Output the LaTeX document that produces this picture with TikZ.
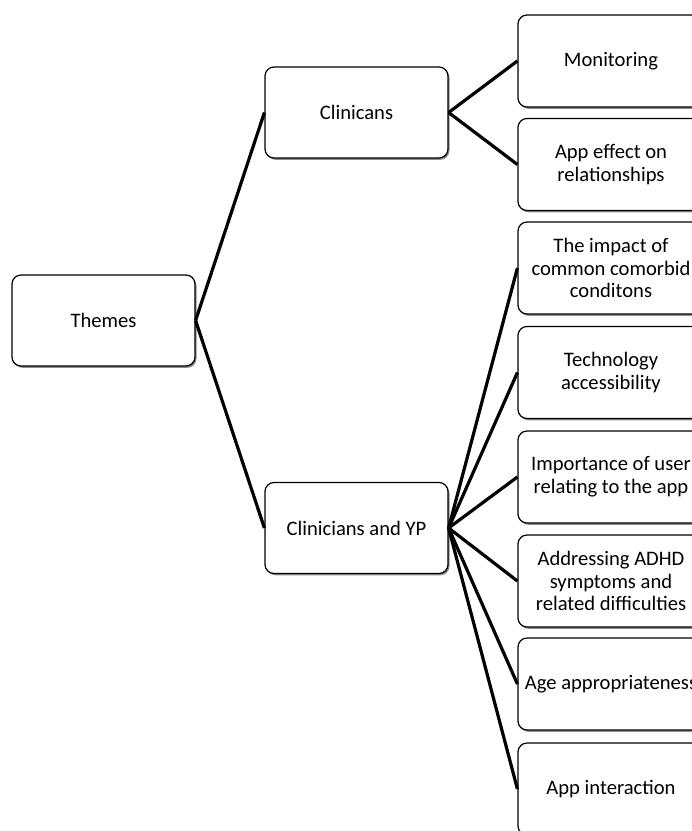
\documentclass[tikz,border=0pt]{standalone}
\usepackage{fontspec}
\setmainfont{Carlito}
\usetikzlibrary{shadows}
\begin{document}
\begin{tikzpicture}[x=1pt,y=-1pt,
  box/.style={draw=black, line width=1.2pt, rounded corners=9pt, fill=white,
    align=center, font=\fontsize{20.6}{22.8}\selectfont, inner sep=0pt,
    drop shadow={shadow xshift=1.5pt, shadow yshift=-1.8pt, opacity=0.45, fill=black}},
  lbox/.style={box, minimum width=183pt, minimum height=91pt},
  rbox/.style={box, minimum width=186pt, minimum height=92pt},
  link/.style={line width=3.2pt}]
\useasboundingbox (0,0) rectangle (692,831);
\clip (0,0) rectangle (692,831);
\fill[white] (0,0) rectangle (692,831);
\node[lbox] (themes) at (103.5,320.5) {Themes};
\node[lbox] (clin) at (356.5,112.5) {Clinicans};
\node[lbox] (cyp) at (356.5,528) {Clinicians and YP};
\node[rbox] (mon) at (611,61) {Monitoring};
\node[rbox] (eff) at (611,164.5) {App effect on\\relationships};
\node[rbox] (imp) at (611,268) {The impact of\\common comorbid\\conditons};
\node[rbox] (tech) at (611,372.5) {Technology\\accessibility};
\node[rbox] (user) at (611,477) {Importance of user\\relating to the app};
\node[rbox] (adhd) at (611,581) {Addressing ADHD\\symptoms and\\related difficulties};
\node[rbox] (age) at (611,684) {Age appropriateness};
\node[rbox] (inter) at (611,789) {App interaction};
\draw[link] (themes.east) -- (clin.west);
\draw[link] (themes.east) -- (cyp.west);
\draw[link] (clin.east) -- (mon.west);
\draw[link] (clin.east) -- (eff.west);
\foreach \t in {imp,tech,user,adhd,age,inter}
  \draw[link] (cyp.east) -- (\t.west);
\end{tikzpicture}
\end{document}
